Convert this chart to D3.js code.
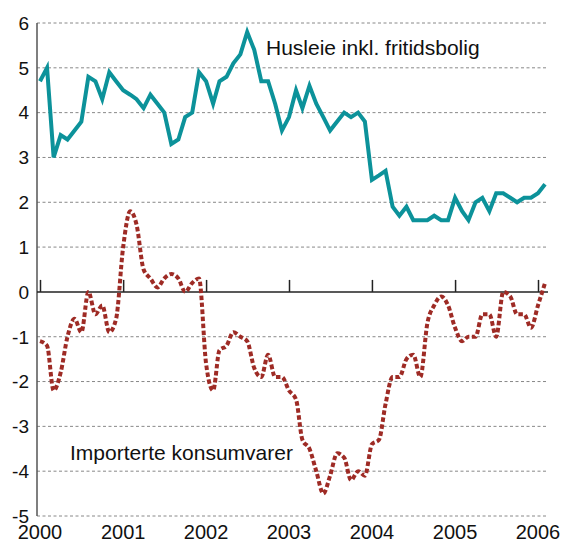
<!DOCTYPE html>
<html>
<head>
<meta charset="utf-8">
<script src="https://cdn.jsdelivr.net/npm/d3@7"></script>
<style>
  body { margin: 0; background: #fff; }
  svg { display: block; font-family: "Liberation Sans", Arial, sans-serif; }
</style>
</head>
<body>
<svg id="chart"></svg>
<script>
// monthly values, Jan 2000 - Feb 2006
const husleie = [
  4.7, 5.0, 3.0, 3.5, 3.4, 3.6, 3.8, 4.8, 4.7, 4.3, 4.9, 4.7,
  4.5, 4.4, 4.3, 4.1, 4.4, 4.2, 4.0, 3.3, 3.4, 3.9, 4.0, 4.9,
  4.7, 4.2, 4.7, 4.8, 5.1, 5.3, 5.8, 5.4, 4.7, 4.7, 4.2, 3.6,
  3.9, 4.5, 4.1, 4.6, 4.2, 3.9, 3.6, 3.8, 4.0, 3.9, 4.0, 3.8,
  2.5, 2.6, 2.7, 1.9, 1.7, 1.9, 1.6, 1.6, 1.6, 1.7, 1.6, 1.6,
  2.1, 1.8, 1.6, 2.0, 2.1, 1.8, 2.2, 2.2, 2.1, 2.0, 2.1, 2.1,
  2.2, 2.4
];
const importerte = [
  -1.1, -1.2, -2.2, -1.8, -1.0, -0.6, -0.9, 0.0, -0.5, -0.3, -0.9, -0.6,
  1.0, 1.8, 1.5, 0.5, 0.3, 0.1, 0.3, 0.4, 0.3, 0.0, 0.2, 0.3,
  -1.6, -2.2, -1.3, -1.2, -0.9, -1.0, -1.1, -1.7, -1.9, -1.4, -1.9, -1.9,
  -2.2, -2.4, -3.3, -3.5, -4.0, -4.5, -4.1, -3.6, -3.7, -4.2, -4.0, -4.1,
  -3.4, -3.3, -2.5, -1.9, -1.9, -1.5, -1.4, -1.9, -0.7, -0.3, -0.1, -0.3,
  -0.8, -1.1, -1.0, -1.0, -0.5, -0.5, -1.0, 0.0, -0.1, -0.5, -0.5, -0.8,
  -0.3, 0.2
];
const years = [2000, 2001, 2002, 2003, 2004, 2005, 2006];
const yTicks = [6, 5, 4, 3, 2, 1, 0, -1, -2, -3, -4, -5];

const W = 563, H = 544;
const svg = d3.select("#chart").attr("width", W).attr("height", H);

const x = d3.scaleTime()
  .domain([new Date(2000, 0, 1), new Date(2006, 0, 1)])
  .range([40, 538]);
const y = d3.scaleLinear().domain([-5, 6]).range([516, 23]);
const left = 37, right = 548;

const dates = husleie.map((d, i) => new Date(2000, i, 1));

// grid
svg.append("g")
  .selectAll("line")
  .data(yTicks.filter(d => d !== 0))
  .enter()
  .append("line")
  .attr("x1", left)
  .attr("x2", right)
  .attr("y1", d => y(d))
  .attr("y2", d => y(d))
  .attr("stroke", "#888")
  .attr("stroke-width", 1)
  .attr("stroke-dasharray", "3,2.5");

// y axis line
svg.append("line")
  .attr("x1", left).attr("x2", left)
  .attr("y1", y(6)).attr("y2", y(-5))
  .attr("stroke", "#555").attr("stroke-width", 1.5);

// y labels
svg.append("g")
  .selectAll("text")
  .data(yTicks)
  .enter()
  .append("text")
  .attr("x", 29)
  .attr("y", d => y(d))
  .attr("dy", "0.36em")
  .attr("text-anchor", "end")
  .attr("font-size", 19)
  .attr("fill", "#111")
  .text(d => d);

// zero axis with ticks pointing up
const xAxis = svg.append("g")
  .attr("transform", `translate(0,${y(0)})`)
  .call(d3.axisTop(x)
    .tickValues(years.map(v => new Date(v, 0, 1)))
    .tickSize(12)
    .tickFormat(""));
xAxis.select(".domain").attr("d", `M${left},0H${right}`).attr("stroke", "#222").attr("stroke-width", 1.5);
xAxis.selectAll(".tick line").attr("stroke", "#222").attr("stroke-width", 1.5);

// year labels at bottom
svg.append("g")
  .selectAll("text")
  .data(years)
  .enter()
  .append("text")
  .attr("x", d => x(new Date(d, 0, 1)))
  .attr("y", 539)
  .attr("text-anchor", "middle")
  .attr("font-size", 20)
  .attr("fill", "#111")
  .text(d => d);

const line1 = d3.line()
  .x((d, i) => x(dates[i]))
  .y(d => y(d));

const line2 = d3.line()
  .x((d, i) => x(dates[i]))
  .y(d => y(d))
  .curve(d3.curveMonotoneX);

svg.append("path")
  .datum(importerte)
  .attr("fill", "none")
  .attr("stroke", "#9e2b25")
  .attr("stroke-width", 4)
  .attr("stroke-dasharray", "4.5,2.5")
  .attr("d", line2);

svg.append("path")
  .datum(husleie)
  .attr("fill", "none")
  .attr("stroke", "#0c929a")
  .attr("stroke-width", 4)
  .attr("stroke-linejoin", "miter")
  .attr("d", line1);

svg.append("text")
  .attr("x", 266)
  .attr("y", 55)
  .attr("font-size", 21)
  .attr("fill", "#111")
  .text("Husleie inkl. fritidsbolig");

svg.append("text")
  .attr("x", 70)
  .attr("y", 460)
  .attr("font-size", 21)
  .attr("fill", "#111")
  .text("Importerte konsumvarer");
</script>
</body>
</html>
